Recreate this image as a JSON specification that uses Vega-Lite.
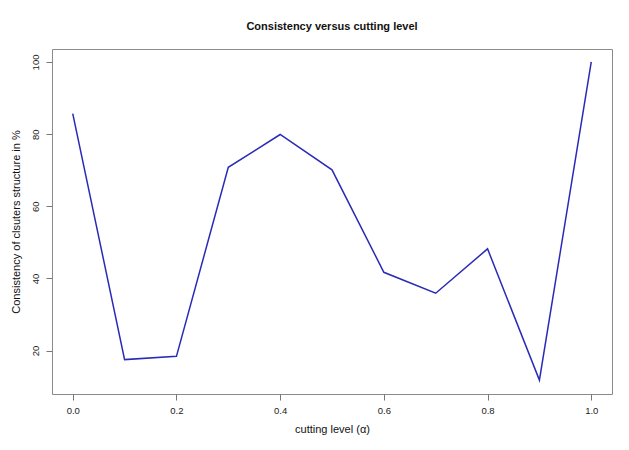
{
  "$schema": "https://vega.github.io/schema/vega-lite/v6.json",
  "width": 560,
  "height": 345,
  "autosize": "none",
  "padding": {"left": 52, "top": 49, "right": 17, "bottom": 56},
  "background": "white",
  "title": {
    "text": "Consistency versus cutting level",
    "font": "Liberation Sans",
    "fontSize": 11,
    "fontWeight": "bold",
    "color": "#111111",
    "anchor": "middle",
    "offset": 17
  },
  "config": {
    "view": {"stroke": "#8a8a8a", "strokeWidth": 1},
    "axis": {
      "domain": false,
      "grid": false,
      "tickColor": "#777777",
      "tickSize": 6,
      "labelFont": "Liberation Sans",
      "labelFontSize": 9.5,
      "labelColor": "#222222",
      "titleFont": "Liberation Sans",
      "titleFontSize": 11,
      "titleFontWeight": "normal",
      "titleColor": "#111111"
    }
  },
  "data": {
    "values": [
      {"alpha": 0.0, "consistency": 85.7},
      {"alpha": 0.1, "consistency": 17.5},
      {"alpha": 0.2, "consistency": 18.4},
      {"alpha": 0.3, "consistency": 70.8},
      {"alpha": 0.4, "consistency": 79.9},
      {"alpha": 0.5, "consistency": 70.1},
      {"alpha": 0.6, "consistency": 41.7},
      {"alpha": 0.7, "consistency": 35.9},
      {"alpha": 0.8, "consistency": 48.2},
      {"alpha": 0.9, "consistency": 11.8},
      {"alpha": 1.0, "consistency": 100}
    ]
  },
  "mark": {"type": "line", "color": "#2a2ab8", "strokeWidth": 1.5},
  "encoding": {
    "x": {
      "field": "alpha",
      "type": "quantitative",
      "scale": {"domain": [-0.04, 1.04], "nice": false, "zero": false},
      "axis": {
        "values": [0, 0.2, 0.4, 0.6, 0.8, 1.0],
        "format": ".1f",
        "labelPadding": 5,
        "title": "cutting level (α)",
        "titlePadding": 9
      }
    },
    "y": {
      "field": "consistency",
      "type": "quantitative",
      "scale": {"domain": [7.96, 103.6], "nice": false, "zero": false},
      "axis": {
        "values": [20, 40, 60, 80, 100],
        "labelAngle": -90,
        "labelAlign": "center",
        "labelBaseline": "bottom",
        "labelPadding": 6,
        "title": "Consistency of clsuters structure in %",
        "titlePadding": 9
      }
    }
  }
}
